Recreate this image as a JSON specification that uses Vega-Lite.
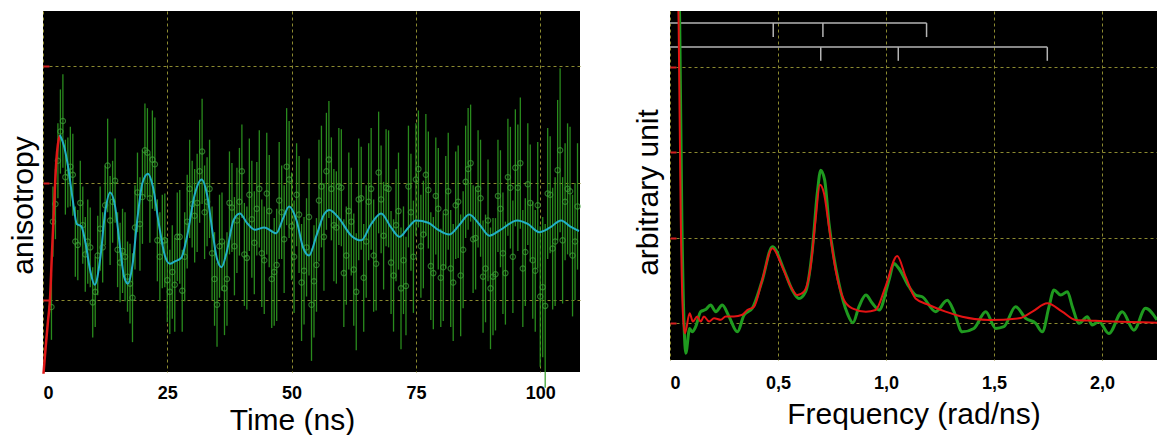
{
  "$schema": "https://vega.github.io/schema/vega-lite/v6.json",
  "background": "white",
  "padding": {"left": 8, "top": 11, "right": 0, "bottom": 0},
  "spacing": 49,
  "config": {
    "font": "Liberation Sans",
    "view": {"fill": "black", "stroke": null},
    "axis": {
      "grid": true,
      "gridColor": "#8c8a30",
      "gridDash": [3, 3],
      "gridWidth": 1,
      "domain": false,
      "labelFont": "Liberation Sans",
      "labelFontSize": 18,
      "labelFontWeight": "bold",
      "labelColor": "black",
      "titleFont": "Liberation Sans",
      "titleFontSize": 30,
      "titleFontWeight": "normal",
      "titleColor": "black"
    }
  },
  "datasets": {
    "rise": [
      {"t": 0.1, "y": 0.037}, {"t": 0.5, "y": 0.058}, {"t": 1.0, "y": 0.082}, {"t": 1.4, "y": 0.1},
      {"t": 1.8, "y": 0.14}, {"t": 2.1, "y": 0.168}, {"t": 2.7, "y": 0.22}, {"t": 3.0, "y": 0.233}, {"t": 3.4, "y": 0.241}
    ],
    "fit": [
      {"t": 3.4, "y": 0.241}, {"t": 4.2, "y": 0.232}, {"t": 5.0, "y": 0.215}, {"t": 6.0, "y": 0.185}, {"t": 6.8, "y": 0.165},
      {"t": 7.7, "y": 0.163}, {"t": 8.5, "y": 0.15}, {"t": 9.5, "y": 0.125}, {"t": 10.4, "y": 0.113}, {"t": 11.5, "y": 0.135},
      {"t": 12.5, "y": 0.175}, {"t": 13.5, "y": 0.192}, {"t": 14.5, "y": 0.18}, {"t": 15.5, "y": 0.145}, {"t": 16.3, "y": 0.12},
      {"t": 17.1, "y": 0.114}, {"t": 18.0, "y": 0.13}, {"t": 19.0, "y": 0.17}, {"t": 20.0, "y": 0.2}, {"t": 21.1, "y": 0.208},
      {"t": 22.2, "y": 0.195}, {"t": 23.3, "y": 0.165}, {"t": 24.5, "y": 0.138}, {"t": 25.5, "y": 0.131}, {"t": 26.5, "y": 0.133},
      {"t": 27.8, "y": 0.136}, {"t": 29.0, "y": 0.155}, {"t": 30.5, "y": 0.19}, {"t": 31.9, "y": 0.203}, {"t": 33.0, "y": 0.19},
      {"t": 34.2, "y": 0.155}, {"t": 35.0, "y": 0.135}, {"t": 35.9, "y": 0.128}, {"t": 37.0, "y": 0.142}, {"t": 38.3, "y": 0.168},
      {"t": 39.6, "y": 0.174}, {"t": 41.0, "y": 0.166}, {"t": 42.6, "y": 0.16}, {"t": 44.5, "y": 0.162}, {"t": 46.9, "y": 0.157},
      {"t": 48.3, "y": 0.17}, {"t": 49.5, "y": 0.18}, {"t": 51.0, "y": 0.168}, {"t": 52.3, "y": 0.145}, {"t": 53.5, "y": 0.138},
      {"t": 55.0, "y": 0.155}, {"t": 56.5, "y": 0.173}, {"t": 57.6, "y": 0.177}, {"t": 59.5, "y": 0.17}, {"t": 62.0, "y": 0.155},
      {"t": 64.0, "y": 0.151}, {"t": 66.0, "y": 0.165}, {"t": 68.0, "y": 0.174}, {"t": 70.0, "y": 0.162}, {"t": 71.7, "y": 0.154},
      {"t": 73.5, "y": 0.162}, {"t": 75.0, "y": 0.168}, {"t": 77.5, "y": 0.166}, {"t": 79.5, "y": 0.16}, {"t": 81.7, "y": 0.156},
      {"t": 83.7, "y": 0.164}, {"t": 85.7, "y": 0.173}, {"t": 87.7, "y": 0.165}, {"t": 89.8, "y": 0.155}, {"t": 92.0, "y": 0.16},
      {"t": 95.4, "y": 0.168}, {"t": 97.5, "y": 0.165}, {"t": 99.8, "y": 0.158}, {"t": 102.0, "y": 0.162}, {"t": 104.2, "y": 0.168},
      {"t": 106.0, "y": 0.163}, {"t": 107.8, "y": 0.159}
    ],
    "obs": [
      {"t": 1.7, "y": 0.094, "e": 0.028}, {"t": 2, "y": 0.167, "e": 0.03}, {"t": 3, "y": 0.219, "e": 0.032}, {"t": 4, "y": 0.253, "e": 0.04},
      {"t": 5, "y": 0.209, "e": 0.03}, {"t": 6, "y": 0.207, "e": 0.035}, {"t": 7, "y": 0.147, "e": 0.03}, {"t": 8, "y": 0.164, "e": 0.033},
      {"t": 9, "y": 0.15, "e": 0.036}, {"t": 10, "y": 0.098, "e": 0.03}, {"t": 11, "y": 0.138, "e": 0.034}, {"t": 12, "y": 0.145, "e": 0.03},
      {"t": 13, "y": 0.215, "e": 0.04}, {"t": 14, "y": 0.184, "e": 0.035}, {"t": 15, "y": 0.143, "e": 0.032}, {"t": 16, "y": 0.142, "e": 0.036},
      {"t": 17, "y": 0.12, "e": 0.03}, {"t": 18, "y": 0.102, "e": 0.038}, {"t": 19, "y": 0.192, "e": 0.034}, {"t": 20, "y": 0.188, "e": 0.04},
      {"t": 21, "y": 0.226, "e": 0.038}, {"t": 22, "y": 0.22, "e": 0.042}, {"t": 23, "y": 0.151, "e": 0.035}, {"t": 24, "y": 0.15, "e": 0.04},
      {"t": 25, "y": 0.117, "e": 0.036}, {"t": 26, "y": 0.124, "e": 0.04}, {"t": 27, "y": 0.154, "e": 0.038}, {"t": 28, "y": 0.108, "e": 0.035},
      {"t": 29, "y": 0.167, "e": 0.04}, {"t": 30, "y": 0.182, "e": 0.037}, {"t": 31, "y": 0.183, "e": 0.042}, {"t": 32, "y": 0.227, "e": 0.045},
      {"t": 33, "y": 0.184, "e": 0.038}, {"t": 34, "y": 0.14, "e": 0.04}, {"t": 35, "y": 0.096, "e": 0.036}, {"t": 36, "y": 0.15, "e": 0.042},
      {"t": 37, "y": 0.118, "e": 0.04}, {"t": 38, "y": 0.179, "e": 0.038}, {"t": 39, "y": 0.168, "e": 0.045}, {"t": 40, "y": 0.21, "e": 0.04},
      {"t": 41, "y": 0.136, "e": 0.044}, {"t": 42, "y": 0.169, "e": 0.05}, {"t": 43, "y": 0.178, "e": 0.04}, {"t": 44, "y": 0.14, "e": 0.046},
      {"t": 45, "y": 0.191, "e": 0.052}, {"t": 46, "y": 0.118, "e": 0.042}, {"t": 47, "y": 0.13, "e": 0.048}, {"t": 48, "y": 0.175, "e": 0.04},
      {"t": 49, "y": 0.214, "e": 0.05}, {"t": 50, "y": 0.163, "e": 0.046}, {"t": 51, "y": 0.19, "e": 0.044}, {"t": 52, "y": 0.115, "e": 0.05},
      {"t": 53, "y": 0.145, "e": 0.042}, {"t": 54, "y": 0.096, "e": 0.048}, {"t": 55, "y": 0.13, "e": 0.04}, {"t": 56, "y": 0.197, "e": 0.052},
      {"t": 57, "y": 0.21, "e": 0.05}, {"t": 58, "y": 0.195, "e": 0.044}, {"t": 59, "y": 0.162, "e": 0.048}, {"t": 60, "y": 0.196, "e": 0.05},
      {"t": 61, "y": 0.138, "e": 0.042}, {"t": 62, "y": 0.167, "e": 0.046}, {"t": 63, "y": 0.107, "e": 0.05}, {"t": 64, "y": 0.187, "e": 0.044},
      {"t": 65, "y": 0.15, "e": 0.048}, {"t": 66, "y": 0.195, "e": 0.052}, {"t": 67, "y": 0.131, "e": 0.04}, {"t": 68, "y": 0.186, "e": 0.046},
      {"t": 69, "y": 0.196, "e": 0.05}, {"t": 70, "y": 0.132, "e": 0.044}, {"t": 71, "y": 0.164, "e": 0.048}, {"t": 72, "y": 0.11, "e": 0.052},
      {"t": 73, "y": 0.112, "e": 0.042}, {"t": 74, "y": 0.175, "e": 0.05}, {"t": 75, "y": 0.203, "e": 0.048}, {"t": 76, "y": 0.146, "e": 0.044},
      {"t": 77, "y": 0.207, "e": 0.052}, {"t": 78, "y": 0.129, "e": 0.046}, {"t": 79, "y": 0.189, "e": 0.05}, {"t": 80, "y": 0.119, "e": 0.042},
      {"t": 81, "y": 0.175, "e": 0.048}, {"t": 82, "y": 0.127, "e": 0.05}, {"t": 83, "y": 0.181, "e": 0.046}, {"t": 84, "y": 0.121, "e": 0.052},
      {"t": 85, "y": 0.201, "e": 0.048}, {"t": 86, "y": 0.217, "e": 0.05}, {"t": 87, "y": 0.153, "e": 0.044}, {"t": 88, "y": 0.187, "e": 0.05},
      {"t": 89, "y": 0.127, "e": 0.046}, {"t": 90, "y": 0.11, "e": 0.052}, {"t": 91, "y": 0.122, "e": 0.048}, {"t": 92, "y": 0.178, "e": 0.05},
      {"t": 93, "y": 0.123, "e": 0.044}, {"t": 94, "y": 0.196, "e": 0.052}, {"t": 95, "y": 0.213, "e": 0.05}, {"t": 96, "y": 0.217, "e": 0.056},
      {"t": 97, "y": 0.141, "e": 0.046}, {"t": 98, "y": 0.183, "e": 0.05}, {"t": 99, "y": 0.125, "e": 0.052}, {"t": 100, "y": 0.103, "e": 0.06},
      {"t": 101, "y": 0.095, "e": 0.07}, {"t": 102, "y": 0.19, "e": 0.05}, {"t": 103, "y": 0.15, "e": 0.055}, {"t": 104, "y": 0.228, "e": 0.07},
      {"t": 105, "y": 0.184, "e": 0.05}, {"t": 106, "y": 0.193, "e": 0.055}, {"t": 107, "y": 0.15, "e": 0.05},
      {"t": 2.5, "y": 0.182, "e": 0.03}, {"t": 3.5, "y": 0.244, "e": 0.036}, {"t": 4.5, "y": 0.205, "e": 0.032}, {"t": 5.5, "y": 0.214, "e": 0.034},
      {"t": 6.5, "y": 0.15, "e": 0.03}, {"t": 7.5, "y": 0.183, "e": 0.036}, {"t": 8.5, "y": 0.139, "e": 0.032}, {"t": 9.5, "y": 0.145, "e": 0.034},
      {"t": 10.5, "y": 0.107, "e": 0.03}, {"t": 11.5, "y": 0.161, "e": 0.036}, {"t": 12.5, "y": 0.181, "e": 0.034}, {"t": 13.5, "y": 0.168, "e": 0.038},
      {"t": 14.5, "y": 0.202, "e": 0.036}, {"t": 15.5, "y": 0.132, "e": 0.034}, {"t": 16.5, "y": 0.137, "e": 0.038}, {"t": 17.5, "y": 0.114, "e": 0.034},
      {"t": 18.5, "y": 0.162, "e": 0.036}, {"t": 19.5, "y": 0.165, "e": 0.04}, {"t": 20.5, "y": 0.228, "e": 0.04}, {"t": 21.5, "y": 0.187, "e": 0.038},
      {"t": 22.5, "y": 0.216, "e": 0.04}, {"t": 23.5, "y": 0.137, "e": 0.038}, {"t": 24.5, "y": 0.151, "e": 0.04}, {"t": 25.5, "y": 0.107, "e": 0.036},
      {"t": 26.5, "y": 0.113, "e": 0.04}, {"t": 27.5, "y": 0.154, "e": 0.04}, {"t": 28.5, "y": 0.137, "e": 0.038}, {"t": 29.5, "y": 0.195, "e": 0.042},
      {"t": 30.5, "y": 0.172, "e": 0.04}, {"t": 31.5, "y": 0.21, "e": 0.044}, {"t": 32.5, "y": 0.175, "e": 0.04}, {"t": 33.5, "y": 0.195, "e": 0.042},
      {"t": 34.5, "y": 0.118, "e": 0.04}, {"t": 35.5, "y": 0.146, "e": 0.044}, {"t": 36.5, "y": 0.11, "e": 0.04}, {"t": 37.5, "y": 0.183, "e": 0.044},
      {"t": 38.5, "y": 0.146, "e": 0.042}, {"t": 39.5, "y": 0.184, "e": 0.046}, {"t": 40.5, "y": 0.139, "e": 0.044}, {"t": 41.5, "y": 0.19, "e": 0.048},
      {"t": 42.5, "y": 0.149, "e": 0.044}, {"t": 43.5, "y": 0.195, "e": 0.05}, {"t": 44.5, "y": 0.134, "e": 0.046}, {"t": 45.5, "y": 0.176, "e": 0.048},
      {"t": 46.5, "y": 0.124, "e": 0.046}, {"t": 47.5, "y": 0.185, "e": 0.05}, {"t": 48.5, "y": 0.152, "e": 0.046}, {"t": 49.5, "y": 0.203, "e": 0.05},
      {"t": 50.5, "y": 0.137, "e": 0.048}, {"t": 51.5, "y": 0.173, "e": 0.05}, {"t": 52.5, "y": 0.125, "e": 0.046}, {"t": 53.5, "y": 0.171, "e": 0.05},
      {"t": 54.5, "y": 0.116, "e": 0.048}, {"t": 55.5, "y": 0.185, "e": 0.052}, {"t": 56.5, "y": 0.154, "e": 0.046}, {"t": 57.5, "y": 0.22, "e": 0.05},
      {"t": 58.5, "y": 0.164, "e": 0.048}, {"t": 59.5, "y": 0.197, "e": 0.05}, {"t": 60.5, "y": 0.123, "e": 0.046}, {"t": 61.5, "y": 0.176, "e": 0.05},
      {"t": 62.5, "y": 0.126, "e": 0.048}, {"t": 63.5, "y": 0.186, "e": 0.052}, {"t": 64.5, "y": 0.119, "e": 0.046}, {"t": 65.5, "y": 0.184, "e": 0.05},
      {"t": 66.5, "y": 0.138, "e": 0.048}, {"t": 67.5, "y": 0.209, "e": 0.052}, {"t": 68.5, "y": 0.155, "e": 0.046}, {"t": 69.5, "y": 0.195, "e": 0.05},
      {"t": 70.5, "y": 0.121, "e": 0.048}, {"t": 71.5, "y": 0.176, "e": 0.05}, {"t": 72.5, "y": 0.134, "e": 0.046}, {"t": 73.5, "y": 0.197, "e": 0.052},
      {"t": 74.5, "y": 0.137, "e": 0.048}, {"t": 75.5, "y": 0.212, "e": 0.05}, {"t": 76.5, "y": 0.156, "e": 0.046}, {"t": 77.5, "y": 0.194, "e": 0.05},
      {"t": 78.5, "y": 0.123, "e": 0.048}, {"t": 79.5, "y": 0.178, "e": 0.052}, {"t": 80.5, "y": 0.128, "e": 0.046}, {"t": 81.5, "y": 0.193, "e": 0.05},
      {"t": 82.5, "y": 0.115, "e": 0.05}, {"t": 83.5, "y": 0.184, "e": 0.048}, {"t": 84.5, "y": 0.143, "e": 0.05}, {"t": 85.5, "y": 0.212, "e": 0.052},
      {"t": 86.5, "y": 0.152, "e": 0.046}, {"t": 87.5, "y": 0.195, "e": 0.05}, {"t": 88.5, "y": 0.12, "e": 0.048}, {"t": 89.5, "y": 0.168, "e": 0.052},
      {"t": 90.5, "y": 0.12, "e": 0.05}, {"t": 91.5, "y": 0.189, "e": 0.048}, {"t": 92.5, "y": 0.14, "e": 0.052}, {"t": 93.5, "y": 0.205, "e": 0.05},
      {"t": 94.5, "y": 0.137, "e": 0.048}, {"t": 95.5, "y": 0.196, "e": 0.054}, {"t": 96.5, "y": 0.127, "e": 0.05}, {"t": 97.5, "y": 0.199, "e": 0.052},
      {"t": 98.5, "y": 0.134, "e": 0.05}, {"t": 99.5, "y": 0.181, "e": 0.054}, {"t": 100.5, "y": 0.111, "e": 0.06}, {"t": 101.5, "y": 0.191, "e": 0.056},
      {"t": 102.5, "y": 0.144, "e": 0.052}, {"t": 103.5, "y": 0.211, "e": 0.06}, {"t": 104.5, "y": 0.151, "e": 0.054}, {"t": 105.5, "y": 0.195, "e": 0.056},
      {"t": 106.5, "y": 0.138, "e": 0.052}, {"t": 107.5, "y": 0.18, "e": 0.054}
    ],
    "specGreen": [
      {"f": 0.035, "a": 6.0}, {"f": 0.045, "a": 4.5}, {"f": 0.055, "a": 2.2}, {"f": 0.065, "a": 1.0}, {"f": 0.073, "a": 0.65},
      {"f": 0.091, "a": 0.94}, {"f": 0.103, "a": 0.9}, {"f": 0.119, "a": 0.96}, {"f": 0.142, "a": 1.136}, {"f": 0.165, "a": 1.16},
      {"f": 0.188, "a": 1.214}, {"f": 0.212, "a": 1.136}, {"f": 0.242, "a": 1.214}, {"f": 0.273, "a": 1.08}, {"f": 0.312, "a": 0.9},
      {"f": 0.343, "a": 1.097}, {"f": 0.381, "a": 1.175}, {"f": 0.427, "a": 1.5}, {"f": 0.474, "a": 1.896}, {"f": 0.528, "a": 1.623},
      {"f": 0.566, "a": 1.39}, {"f": 0.597, "a": 1.29}, {"f": 0.628, "a": 1.37}, {"f": 0.659, "a": 1.857}, {"f": 0.682, "a": 2.52},
      {"f": 0.698, "a": 2.79}, {"f": 0.716, "a": 2.676}, {"f": 0.736, "a": 2.17}, {"f": 0.782, "a": 1.468}, {"f": 0.821, "a": 1.117},
      {"f": 0.847, "a": 1.007}, {"f": 0.875, "a": 1.195}, {"f": 0.907, "a": 1.33}, {"f": 0.937, "a": 1.234}, {"f": 0.968, "a": 1.156},
      {"f": 1.014, "a": 1.506}, {"f": 1.037, "a": 1.7}, {"f": 1.06, "a": 1.64}, {"f": 1.106, "a": 1.43}, {"f": 1.137, "a": 1.33},
      {"f": 1.168, "a": 1.31}, {"f": 1.23, "a": 1.136}, {"f": 1.284, "a": 1.27}, {"f": 1.315, "a": 1.136}, {"f": 1.353, "a": 0.9},
      {"f": 1.407, "a": 0.94}, {"f": 1.462, "a": 1.136}, {"f": 1.508, "a": 0.94}, {"f": 1.546, "a": 0.96}, {"f": 1.6, "a": 1.194},
      {"f": 1.647, "a": 1.058}, {"f": 1.693, "a": 1.0}, {"f": 1.724, "a": 0.9}, {"f": 1.755, "a": 1.194}, {"f": 1.778, "a": 1.39},
      {"f": 1.809, "a": 1.33}, {"f": 1.84, "a": 1.37}, {"f": 1.863, "a": 1.194}, {"f": 1.894, "a": 1.0}, {"f": 1.932, "a": 1.077},
      {"f": 1.955, "a": 0.98}, {"f": 1.986, "a": 1.02}, {"f": 2.032, "a": 0.88}, {"f": 2.094, "a": 1.136}, {"f": 2.148, "a": 0.92},
      {"f": 2.202, "a": 1.175}, {"f": 2.255, "a": 1.04}
    ],
    "specRed": [
      {"f": 0.03, "a": 6.0}, {"f": 0.04, "a": 4.5}, {"f": 0.05, "a": 2.2}, {"f": 0.06, "a": 1.1}, {"f": 0.069, "a": 0.883},
      {"f": 0.091, "a": 1.117}, {"f": 0.106, "a": 1.02}, {"f": 0.126, "a": 1.08}, {"f": 0.142, "a": 1.02}, {"f": 0.157, "a": 1.08},
      {"f": 0.181, "a": 1.02}, {"f": 0.204, "a": 1.06}, {"f": 0.235, "a": 1.04}, {"f": 0.258, "a": 1.08}, {"f": 0.296, "a": 1.08},
      {"f": 0.335, "a": 1.1}, {"f": 0.358, "a": 1.156}, {"f": 0.389, "a": 1.194}, {"f": 0.427, "a": 1.506}, {"f": 0.474, "a": 1.877},
      {"f": 0.52, "a": 1.66}, {"f": 0.559, "a": 1.43}, {"f": 0.589, "a": 1.33}, {"f": 0.62, "a": 1.37}, {"f": 0.651, "a": 1.66},
      {"f": 0.674, "a": 2.21}, {"f": 0.694, "a": 2.62}, {"f": 0.713, "a": 2.52}, {"f": 0.736, "a": 2.13}, {"f": 0.767, "a": 1.62},
      {"f": 0.806, "a": 1.27}, {"f": 0.844, "a": 1.175}, {"f": 0.907, "a": 1.136}, {"f": 0.952, "a": 1.156}, {"f": 0.998, "a": 1.43},
      {"f": 1.052, "a": 1.787}, {"f": 1.091, "a": 1.545}, {"f": 1.137, "a": 1.29}, {"f": 1.199, "a": 1.214}, {"f": 1.276, "a": 1.136},
      {"f": 1.353, "a": 1.077}, {"f": 1.477, "a": 1.039}, {"f": 1.616, "a": 1.058}, {"f": 1.678, "a": 1.136}, {"f": 1.747, "a": 1.234},
      {"f": 1.816, "a": 1.136}, {"f": 1.878, "a": 1.039}, {"f": 1.971, "a": 1.03}, {"f": 2.048, "a": 1.02}, {"f": 2.255, "a": 1.007}
    ],
    "hbars": [
      {"f": 0, "f2": 1.188, "a": 4.509},
      {"f": 0, "f2": 1.747, "a": 4.228}
    ],
    "vbars": [
      {"f": 0.478, "a": 4.509, "a2": 4.345}, {"f": 0.708, "a": 4.509, "a2": 4.345}, {"f": 1.188, "a": 4.509, "a2": 4.345},
      {"f": 0.698, "a": 4.228, "a2": 4.068}, {"f": 1.057, "a": 4.228, "a2": 4.068}, {"f": 1.747, "a": 4.228, "a2": 4.068}
    ]
  },
  "hconcat": [
    {
      "width": 537,
      "height": 361,
      "encoding": {
        "x": {
          "field": "t", "type": "quantitative",
          "scale": {"domain": [0, 108], "nice": false, "zero": false},
          "axis": {"values": [0, 25, 50, 75, 100], "ticks": false, "labelPadding": 12, "title": "Time (ns)", "titlePadding": 3, "titleX": 249}
        },
        "y": {
          "field": "y", "type": "quantitative",
          "scale": {"domain": [0.0385, 0.347], "nice": false, "zero": false},
          "axis": {"values": [0.1, 0.2, 0.3], "labels": false, "ticks": true, "tickColor": "#d42020", "tickSize": -6, "tickWidth": 2, "title": "anisotropy", "titlePadding": 4, "titleY": 194}
        }
      },
      "layer": [
        {
          "data": {"name": "obs"},
          "mark": {"type": "errorbar", "color": "#2e9a20", "thickness": 1.3, "opacity": 0.9},
          "encoding": {"yError": {"field": "e"}}
        },
        {
          "data": {"name": "obs"},
          "mark": {"type": "point", "shape": "circle", "filled": false, "size": 28, "strokeWidth": 1.2, "color": "#3fa23a"}
        },
        {
          "data": {"name": "rise"},
          "mark": {"type": "line", "color": "#e01818", "strokeWidth": 2.5, "interpolate": "monotone"}
        },
        {
          "data": {"name": "fit"},
          "mark": {"type": "line", "color": "#22b0c4", "strokeWidth": 2, "interpolate": "monotone"}
        }
      ]
    },
    {
      "width": 487,
      "height": 349,
      "encoding": {
        "x": {
          "field": "f", "type": "quantitative",
          "scale": {"domain": [0, 2.255], "nice": false, "zero": false},
          "axis": {"values": [0, 0.5, 1, 1.5, 2], "ticks": false, "labelPadding": 14, "labelExpr": "datum.value == 0 ? '0' : replace(format(datum.value, '.1f'), '.', ',')", "title": "Frequency (rad/ns)", "titlePadding": 7}
        },
        "y": {
          "field": "a", "type": "quantitative",
          "scale": {"domain": [0.571, 4.65], "nice": false, "zero": false},
          "axis": {"values": [1, 2, 3, 4], "labels": false, "ticks": true, "tickColor": "#d42020", "tickSize": -6, "tickWidth": 2, "title": "arbitrary unit", "titlePadding": 6, "titleY": 181}
        }
      },
      "layer": [
        {
          "data": {"name": "hbars"},
          "mark": {"type": "rule", "color": "#b4b4b4", "strokeWidth": 1.5},
          "encoding": {"x2": {"field": "f2"}}
        },
        {
          "data": {"name": "vbars"},
          "mark": {"type": "rule", "color": "#b4b4b4", "strokeWidth": 1.5},
          "encoding": {"y2": {"field": "a2"}}
        },
        {
          "data": {"name": "specGreen"},
          "mark": {"type": "line", "color": "#1f9a1f", "strokeWidth": 3, "interpolate": "monotone", "clip": true}
        },
        {
          "data": {"name": "specRed"},
          "mark": {"type": "line", "color": "#e41414", "strokeWidth": 2, "interpolate": "monotone", "clip": true}
        }
      ]
    }
  ]
}
